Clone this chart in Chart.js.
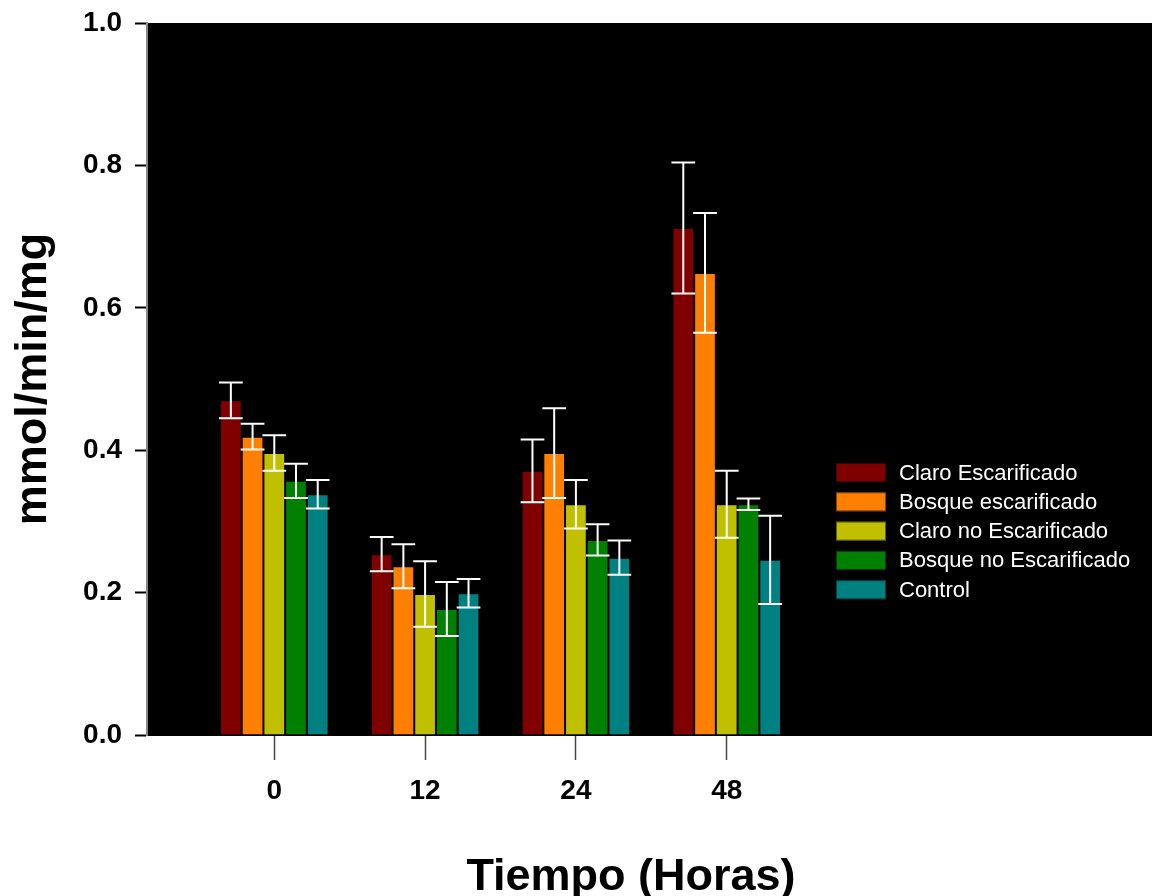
<!DOCTYPE html>
<html>
<head>
<meta charset="utf-8">
<script src="https://cdn.jsdelivr.net/npm/chart.js@4.4.0/dist/chart.umd.min.js"></script>
<style>
  body { margin: 0; background: #fff; }
  #wrap { width: 1152px; height: 896px; }
</style>
</head>
<body>
<div id="wrap"><canvas id="myChart" width="1152" height="896"></canvas></div>
<script>
// datos
const horas = ['0', '12', '24', '48'];
const series = ['Claro Escarificado', 'Bosque escarificado', 'Claro no Escarificado', 'Bosque no Escarificado', 'Control'];
const colores = ['#800000', '#ff8000', '#c0c000', '#008000', '#008080'];

const claroEsc = [0.470, 0.254, 0.371, 0.712];
const claroEscErr = [0.025, 0.024, 0.044, 0.092];
const bosqueEsc = [0.419, 0.237, 0.396, 0.649];
const bosqueEscErr = [0.018, 0.031, 0.063, 0.084];
const claroNoEsc = [0.396, 0.198, 0.324, 0.324];
const claroNoEscErr = [0.025, 0.046, 0.034, 0.047];
const bosqueNoEsc = [0.357, 0.177, 0.274, 0.324];
const bosqueNoEscErr = [0.024, 0.038, 0.022, 0.008];
const control = [0.338, 0.199, 0.249, 0.246];
const controlErr = [0.020, 0.020, 0.024, 0.062];

const yTicks = [0, 0.2, 0.4, 0.6, 0.8, 1.0];
const xTitulo = 'Tiempo (Horas)';

const valores = [claroEsc, bosqueEsc, claroNoEsc, bosqueNoEsc, control];
const errores = [claroEscErr, bosqueEscErr, claroNoEscErr, bosqueNoEscErr, controlErr];

const FONT = 'Liberation Sans, Arial, sans-serif';

const datasets = series.map((s, k) => ({
    label: s,
    data: valores[k].map((v, i) => ({ x: i, y: v })),
    err: errores[k],
    backgroundColor: colores[k],
    borderColor: 'rgba(0,0,0,0.85)',
    borderWidth: 1,
    categoryPercentage: 0.72,
    barPercentage: 1.0
}));

// fondo negro del area del grafico
const fondo = {
    id: 'fondo',
    beforeDraw(chart) {
        const { ctx, chartArea: a } = chart;
        ctx.save();
        ctx.fillStyle = '#000';
        ctx.fillRect(a.left, a.top, a.right - a.left, a.bottom - a.top);
        ctx.restore();
    }
};

// barras de error blancas
const barrasError = {
    id: 'barrasError',
    afterDatasetsDraw(chart) {
        const ctx = chart.ctx;
        const y = chart.scales.y;
        ctx.save();
        ctx.strokeStyle = '#fff';
        ctx.lineWidth = 2;
        chart.data.datasets.forEach((ds, k) => {
            const meta = chart.getDatasetMeta(k);
            meta.data.forEach((bar, i) => {
                const v = ds.data[i].y, e = ds.err[i];
                const yt = y.getPixelForValue(v + e);
                const yb = y.getPixelForValue(v - e);
                const half = bar.width / 2 + 1;
                ctx.beginPath();
                ctx.moveTo(bar.x, yt); ctx.lineTo(bar.x, yb);
                ctx.moveTo(bar.x - half, yt); ctx.lineTo(bar.x + half, yt);
                ctx.moveTo(bar.x - half, yb); ctx.lineTo(bar.x + half, yb);
                ctx.stroke();
            });
        });
        ctx.restore();
    }
};

// leyenda dentro del area negra y titulo del eje x
const leyenda = {
    id: 'leyenda',
    afterDraw(chart) {
        const ctx = chart.ctx;
        ctx.save();
        ctx.font = '22px ' + FONT;
        ctx.textBaseline = 'middle';
        chart.data.datasets.forEach((ds, k) => {
            const cy = 472.5 + k * 29.3;
            ctx.fillStyle = ds.backgroundColor;
            ctx.fillRect(836, cy - 9.5, 50, 19);
            ctx.strokeStyle = 'rgba(0,0,0,0.5)';
            ctx.lineWidth = 1;
            ctx.strokeRect(836.5, cy - 9, 49, 18);
            ctx.fillStyle = '#fff';
            ctx.fillText(ds.label, 899, cy + 1);
        });
        ctx.font = 'bold 45px ' + FONT;
        ctx.fillStyle = '#000';
        ctx.textAlign = 'center';
        ctx.textBaseline = 'alphabetic';
        ctx.fillText(xTitulo, 631, 890);
        ctx.restore();
    }
};

const config = {
    type: 'bar',
    data: { datasets: datasets },
    plugins: [fondo, barrasError, leyenda],
    options: {
        responsive: false,
        animation: false,
        layout: { padding: { top: 23, right: 0, left: 0, bottom: 0 } },
        plugins: {
            legend: { display: false },
            tooltip: { enabled: false }
        },
        scales: {
            x: {
                type: 'linear',
                min: -0.844,
                max: 5.82,
                offset: false,
                afterBuildTicks: (scale) => {
                    scale.ticks = horas.map((h, i) => ({ value: i }));
                },
                afterFit: (scale) => {
                    scale.height = 161;
                    scale.paddingLeft = 0;
                    scale.paddingRight = 0;
                },
                ticks: {
                    callback: (v) => horas[v],
                    color: '#000',
                    padding: 14,
                    maxRotation: 0,
                    font: { family: FONT, size: 28, weight: 'bold' }
                },
                grid: {
                    offset: false,
                    drawOnChartArea: false,
                    drawTicks: true,
                    tickLength: 25,
                    tickColor: '#444',
                    tickWidth: 1.5
                },
                border: { color: '#000', width: 2 },
                title: { display: false }
            },
            y: {
                min: 0,
                max: 1,
                afterBuildTicks: (scale) => {
                    scale.ticks = yTicks.map(v => ({ value: v }));
                },
                afterFit: (scale) => {
                    scale.width = 147;
                    scale.paddingTop = 0;
                    scale.paddingBottom = 0;
                },
                ticks: {
                    callback: (v) => v.toFixed(1),
                    color: '#000',
                    padding: 13,
                    font: { family: FONT, size: 28, weight: 'bold' }
                },
                grid: {
                    drawOnChartArea: false,
                    drawTicks: true,
                    tickLength: 12,
                    tickColor: '#000',
                    tickWidth: 2
                },
                border: { color: '#888', width: 2 },
                title: {
                    display: true,
                    text: 'mmol/min/mg',
                    color: '#000',
                    padding: { top: 13, bottom: 0 },
                    font: { family: FONT, size: 45, weight: 'bold', lineHeight: 0.9 }
                }
            }
        }
    }
};

const myChart = new Chart(document.getElementById('myChart'), config);
</script>
</body>
</html>
